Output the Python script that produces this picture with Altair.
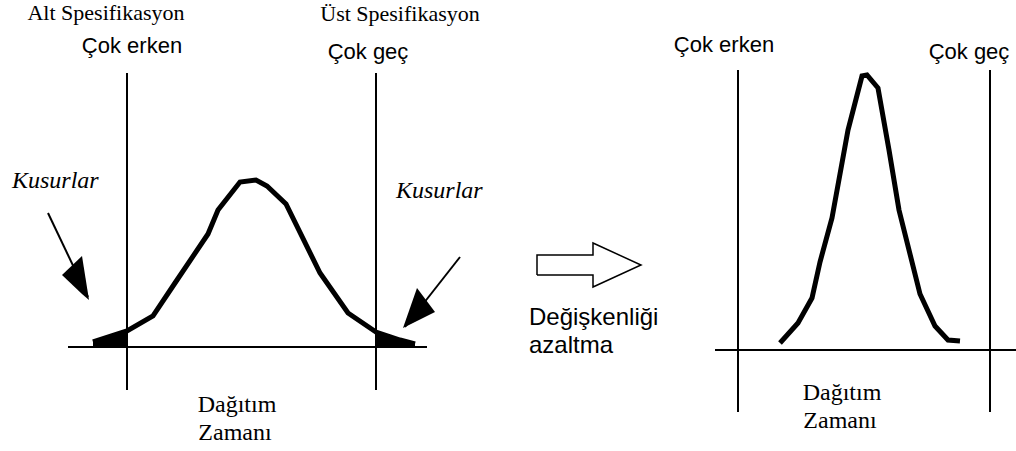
import altair as alt
import pandas as pd

# Canvas coordinates: x to the right, y downward (0..1016, 0..451)
W, H = 1016, 451

# Wide distribution (left panel)
wide_x = [93, 127, 153, 175, 208, 218, 240, 256, 267, 286, 320, 348, 376, 400, 415]
wide_y = [342, 331, 316, 283, 234, 210, 182, 180, 186, 204, 273, 313, 332, 340, 344]

# Defect tails below/above the specification limits
tail_lo_x = [93, 127]
tail_lo_y = [341, 330]
tail_hi_x = [376, 400, 415]
tail_hi_y = [332, 340, 344]
tail_base = 347

# Narrow distribution (right panel)
narrow_x = [780, 798, 812, 820, 832, 848, 862, 867, 878, 889, 899, 920, 935, 948, 960]
narrow_y = [343, 323, 298, 262, 218, 130, 76, 75, 88, 150, 210, 294, 326, 340, 341]

# Specification limits and base axes
spec_x = [127, 376, 738, 990]
spec_top = [73, 73, 70, 70]
spec_bottom = [390, 390, 412, 412]
base_x1 = [68, 715]
base_x2 = [427, 1016]
base_y = [347, 350]

# Pointer arrows to the defect regions: shaft start, tip, head corners
shaft_x1 = [48, 460]
shaft_y1 = [213, 257]
shaft_x2 = [88, 405]
shaft_y2 = [297, 327]
head_lo_x = [62, 82, 89]
head_lo_top = [275, 256, 300]
head_lo_bot = [275, 294, 300]
head_hi_x = [403, 417, 435]
head_hi_top = [328, 288, 312]
head_hi_bot = [328, 321, 312]

# Hollow block arrow between the panels
block_x = [537, 537, 593, 593, 641, 593, 593, 537]
block_y = [275, 255, 255, 243, 265, 287, 275, 275]

# Labels
serif_texts = ["Alt Spesifikasyon", "Üst Spesifikasyon", "Dağıtım", "Zamanı", "Dağıtım", "Zamanı"]
serif_x = [106, 400, 237, 235, 842, 840]
serif_y = [20, 21, 412, 440, 400, 428]
serif_size = [22, 22, 24, 24, 24, 24]

sans_texts = ["Çok erken", "Çok geç", "Çok erken", "Çok geç", "Değişkenliği", "azaltma"]
sans_x = [132, 368, 724, 969, 529, 529]
sans_y = [53, 59, 52, 59, 325, 353]
sans_align = ["center", "center", "center", "center", "left", "left"]

italic_texts = ["Kusurlar", "Kusurlar"]
italic_x = [12, 396]
italic_y = [188, 198]

xs = alt.Scale(domain=[0, W], nice=False, zero=False)
ys = alt.Scale(domain=[0, H], nice=False, zero=False, reverse=True)
X = lambda f: alt.X(f, type="quantitative", scale=xs, axis=None)
Y = lambda f: alt.Y(f, type="quantitative", scale=ys, axis=None)

black = "#000000"

tails = pd.concat([
    pd.DataFrame({"x": tail_lo_x, "y": tail_lo_y, "y2": tail_base, "g": "lo"}),
    pd.DataFrame({"x": tail_hi_x, "y": tail_hi_y, "y2": tail_base, "g": "hi"}),
])
tail_layer = alt.Chart(tails).mark_area(color=black, interpolate="linear").encode(
    x=X("x"), y=Y("y"), y2="y2", detail="g:N"
)

heads = pd.concat([
    pd.DataFrame({"x": head_lo_x, "y": head_lo_top, "y2": head_lo_bot, "g": "lo"}),
    pd.DataFrame({"x": head_hi_x, "y": head_hi_top, "y2": head_hi_bot, "g": "hi"}),
])
head_layer = alt.Chart(heads).mark_area(color=black, interpolate="linear").encode(
    x=X("x"), y=Y("y"), y2="y2", detail="g:N"
)

curves = pd.concat([
    pd.DataFrame({"x": wide_x, "y": wide_y, "g": "wide", "o": range(len(wide_x))}),
    pd.DataFrame({"x": narrow_x, "y": narrow_y, "g": "narrow", "o": range(len(narrow_x))}),
])
curve_layer = alt.Chart(curves).mark_line(
    color=black, strokeWidth=5, strokeJoin="miter", strokeCap="butt"
).encode(x=X("x"), y=Y("y"), detail="g:N", order="o:Q")

spec_layer = alt.Chart(pd.DataFrame({"x": spec_x, "y": spec_top, "y2": spec_bottom})).mark_rule(
    color=black, strokeWidth=2
).encode(x=X("x"), y=Y("y"), y2="y2")

base_layer = alt.Chart(pd.DataFrame({"x": base_x1, "x2": base_x2, "y": base_y})).mark_rule(
    color=black, strokeWidth=2
).encode(x=X("x"), x2="x2", y=Y("y"))

shaft_layer = alt.Chart(pd.DataFrame({"x": shaft_x1, "x2": shaft_x2, "y": shaft_y1, "y2": shaft_y2})).mark_rule(
    color=black, strokeWidth=2
).encode(x=X("x"), x2="x2", y=Y("y"), y2="y2")

block_layer = alt.Chart(pd.DataFrame({"x": block_x, "y": block_y, "o": range(len(block_x))})).mark_line(
    color=black, strokeWidth=1.5, strokeJoin="miter"
).encode(x=X("x"), y=Y("y"), order="o:Q")

serif_layer = alt.Chart(pd.DataFrame({"t": serif_texts, "x": serif_x, "y": serif_y, "s": serif_size})).mark_text(
    font="Liberation Serif", color=black, baseline="alphabetic", align="center"
).encode(x=X("x"), y=Y("y"), text="t:N", size=alt.Size("s:Q", scale=None, legend=None))

sans_df = pd.DataFrame({"t": sans_texts, "x": sans_x, "y": sans_y, "a": sans_align})

sans_layer = alt.Chart(sans_df).transform_filter(
    alt.datum.a == "center"
).mark_text(
    font="Liberation Sans", color=black, baseline="alphabetic", align="center", fontSize=22
).encode(x=X("x"), y=Y("y"), text="t:N")

sans_left_layer = alt.Chart(sans_df).transform_filter(
    alt.datum.a == "left"
).mark_text(
    font="Liberation Sans", color=black, baseline="alphabetic", align="left", fontSize=24
).encode(x=X("x"), y=Y("y"), text="t:N")

italic_layer = alt.Chart(pd.DataFrame({"t": italic_texts, "x": italic_x, "y": italic_y})).mark_text(
    font="Liberation Serif", fontStyle="italic", color=black, baseline="alphabetic", align="left", fontSize=24
).encode(x=X("x"), y=Y("y"), text="t:N")

chart = alt.layer(
    tail_layer, head_layer, spec_layer, base_layer, shaft_layer, curve_layer,
    block_layer, serif_layer, sans_layer, sans_left_layer, italic_layer,
).properties(
    width=W, height=H, padding=0, autosize=alt.AutoSizeParams(type="none"),
    background="white",
).configure_view(stroke=None)

chart.save("out.html", embed_options={"renderer": "svg", "actions": False})
